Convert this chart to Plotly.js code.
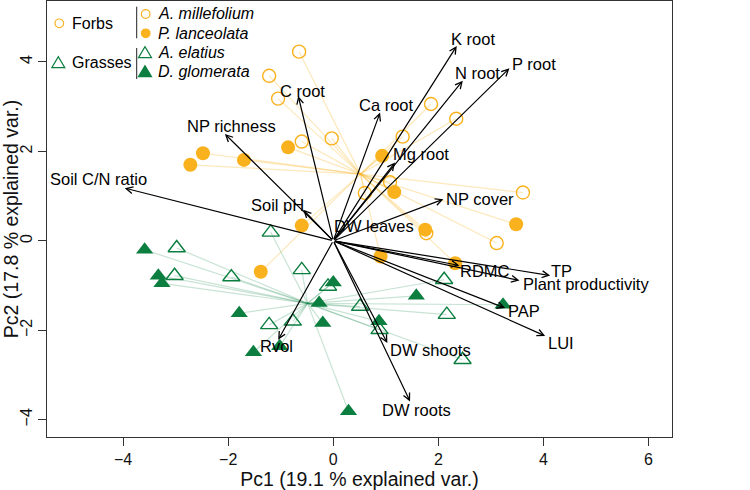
<!DOCTYPE html>
<html><head><meta charset="utf-8">
<script src="https://cdn.plot.ly/plotly-3.0.1.min.js"></script>
<style>html,body{margin:0;padding:0;background:#fff}#chart{width:750px;height:490px}</style>
</head><body><div id="chart"></div>
<script>
// ---- scores (PC1, PC2) per species ----
const millefoliumPC1 = [-0.65, -1.22, -1.05, -0.60, -0.03, 1.86, 2.34, 1.32, 1.08, 0.60, 3.61, 3.11, 1.77];
const millefoliumPC2 = [4.23, 3.69, 3.18, 2.22, 2.29, 3.06, 2.73, 2.33, 1.31, 1.07, 1.08, -0.05, 0.17];
const lanceolataPC1 = [-2.48, -2.72, -1.70, -0.86, 0.93, 1.16, 3.48, 1.75, 0.90, 2.32, -0.60, -1.38];
const lanceolataPC2 = [1.96, 1.70, 1.81, 2.09, 1.90, 1.09, 0.37, 0.25, -0.35, -0.50, 0.34, -0.69];
const elatiusPC1 = [-1.19, -2.98, -3.02, -1.94, -0.60, -0.10, -1.22, -0.77, 0.51, 2.11, 2.16, 0.88, 2.46];
const elatiusPC2 = [0.19, -0.16, -0.78, -0.81, -0.65, -1.02, -1.88, -1.80, -1.47, -0.87, -1.65, -1.99, -2.66];
const glomerataPC1 = [-3.59, -3.33, -3.26, -1.79, -1.52, -1.02, -0.27, -0.20, 0.00, 1.58, 0.87, 3.23, 0.29];
const glomerataPC2 = [-0.20, -0.78, -0.95, -1.62, -2.49, -2.36, -1.39, -1.84, -0.93, -1.23, -1.80, -1.43, -3.81];

// ---- loadings (arrow tips) ----
const varNames = ['K root','N root','P root','Ca root','Mg root','C root','NP richness','Soil C/N ratio','Soil pH','Rvol','NP cover','DW leaves','RDMC','TP','Plant productivity','PAP','LUI','DW shoots','DW roots'];
const varPC1 = [2.350, 2.465, 3.352, 0.890, 1.175, -0.667, -2.063, -3.968, -0.571, -1.048, 2.095, 0.02, 2.400, 4.128, 3.543, 3.270, 4.032, 1.029, 1.461];
const varPC2 = [4.358, 3.582, 3.859, 2.867, 1.750, 3.240, 2.391, 1.178, 0.693, -2.212, 0.932, 0.01, -0.552, -0.775, -0.887, -1.504, -2.128, -2.286, -3.591];

// ---- tick labels ----
const xTicks = [-4, -2, 0, 2, 4, 6];
const yTicks = [-4, -2, 0, 2, 4];

// ---- styling (label offsets in px) ----
const labelDX = [16, 15, 25, 6, 26, 4, 7, -26, -26, -2, 37, 40, 26, 11, 67, 19, 16, 43, 6];
const labelDY = [7, 8, 4, 8, 9, 5, 8, 9, 5, -6, 0, 14, -5, 4, -4, -3, -7, -7, -9];

const ORANGE = '#F9B21D';
const GREEN = '#0B7E40';
const FONT = 'Liberation Sans, Arial, Helvetica, sans-serif';

const M = {l: 47, r: 78, t: 1, b: 53};
const W = 750, H = 490;
const PW = W - M.l - M.r, PH = H - M.t - M.b;
const px2x = p => (p - M.l) / PW;
const px2y = p => (H - M.b - p) / PH;

function mean(a) { return a.reduce((s, v) => s + v, 0) / a.length; }
function spider(xs, ys, color) {
  const cx = mean(xs), cy = mean(ys);
  const X = [], Y = [];
  xs.forEach((x, i) => { X.push(cx, x, null); Y.push(cy, ys[i], null); });
  return {x: X, y: Y, mode: 'lines', line: {color: color, width: 1.2}, hoverinfo: 'skip', showlegend: false, type: 'scatter'};
}

const forbX = millefoliumPC1.concat(lanceolataPC1);
const forbY = millefoliumPC2.concat(lanceolataPC2);
const grassX = elatiusPC1.concat(glomerataPC1);
const grassY = elatiusPC2.concat(glomerataPC2);

const traces = [
  spider(forbX, forbY, 'rgba(249,178,29,0.30)'),
  spider(grassX, grassY, 'rgba(11,126,64,0.22)'),
  {x: millefoliumPC1, y: millefoliumPC2, mode: 'markers', type: 'scatter', name: 'A. millefolium',
   marker: {symbol: 'circle-open', size: 13, color: ORANGE, line: {width: 1.4, color: ORANGE}}},
  {x: lanceolataPC1, y: lanceolataPC2, mode: 'markers', type: 'scatter', name: 'P. lanceolata',
   marker: {symbol: 'circle', size: 14, color: ORANGE}},
  {x: elatiusPC1, y: elatiusPC2, mode: 'markers', type: 'scatter', name: 'A. elatius',
   marker: {symbol: 'triangle-up-open', size: 15, color: GREEN, line: {width: 1.4, color: GREEN}}},
  {x: glomerataPC1, y: glomerataPC2, mode: 'markers', type: 'scatter', name: 'D. glomerata',
   marker: {symbol: 'triangle-up', size: 15, color: GREEN}}
];

const annotations = [];
varNames.forEach((nm, i) => {
  const len = Math.hypot(varPC1[i], varPC2[i]);
  if (len > 0.1) {
    annotations.push({x: varPC1[i], y: varPC2[i], ax: 0, ay: 0, axref: 'x', ayref: 'y', xref: 'x', yref: 'y',
      text: '', showarrow: true, arrowhead: 5, arrowsize: 1.1, arrowwidth: 1.2, arrowcolor: '#000', standoff: 0});
  }
  annotations.push({x: varPC1[i], y: varPC2[i], xref: 'x', yref: 'y', text: nm, showarrow: false,
    xanchor: 'center', yanchor: 'middle', xshift: labelDX[i], yshift: labelDY[i],
    font: {family: FONT, size: 16.5, color: '#000'}});
});

// legend texts
const legTexts = [
  {t: 'Forbs', x: 70, y: 23.3},
  {t: 'Grasses', x: 70, y: 62.7},
  {t: '<i>A. millefolium</i>', x: 156, y: 14},
  {t: '<i>P. lanceolata</i>', x: 156, y: 33.3},
  {t: '<i>A. elatius</i>', x: 156, y: 52.7},
  {t: '<i>D. glomerata</i>', x: 156, y: 71.7}
];
legTexts.forEach(o => annotations.push({xref: 'paper', yref: 'paper', x: px2x(o.x), y: px2y(o.y), text: o.t,
  showarrow: false, xanchor: 'left', yanchor: 'middle', font: {family: FONT, size: 16, color: '#000'}}));

function circ(px, py, fill, color) {
  return {type: 'circle', xref: 'paper', yref: 'paper', xsizemode: 'pixel', ysizemode: 'pixel',
    xanchor: px2x(px), yanchor: px2y(py), x0: -4.3, x1: 4.3, y0: -4.3, y1: 4.3,
    line: {color: color, width: 1.2}, fillcolor: fill ? color : 'rgba(0,0,0,0)'};
}
function tri(px, py, fill, color) {
  return {type: 'path', xref: 'paper', yref: 'paper', xsizemode: 'pixel', ysizemode: 'pixel',
    xanchor: px2x(px), yanchor: px2y(py), path: 'M-6.5,-5 L6.5,-5 L0,6 Z',
    line: {color: color, width: 1.2}, fillcolor: fill ? color : 'rgba(0,0,0,0)'};
}
const shapes = [
  circ(59.3, 23.3, false, ORANGE),
  tri(58.3, 62.7, false, GREEN),
  circ(145.7, 14, false, ORANGE),
  circ(145.7, 33.3, true, ORANGE),
  tri(145, 52.7, false, GREEN),
  tri(145, 71.7, true, GREEN),
  {type: 'line', xref: 'paper', yref: 'paper', x0: px2x(136.7), x1: px2x(136.7), y0: px2y(6.7), y1: px2y(38.3), line: {color: '#222', width: 1}},
  {type: 'line', xref: 'paper', yref: 'paper', x0: px2x(136.7), x1: px2x(136.7), y0: px2y(48), y1: px2y(79), line: {color: '#222', width: 1}}
];

const layout = {
  width: W, height: H, margin: M, showlegend: false,
  paper_bgcolor: '#fff', plot_bgcolor: '#fff',
  font: {family: FONT, color: '#000'},
  xaxis: {range: [-5.448, 6.446], tickvals: xTicks, ticktext: xTicks.map(v => v < 0 ? '\u2212' + Math.abs(v) : String(v)),
    ticks: 'outside', ticklen: 8, tickwidth: 1, tickcolor: '#333', showgrid: false, zeroline: false,
    showline: true, mirror: true, linecolor: '#333', linewidth: 1, tickfont: {size: 16, family: FONT, color: '#111'},
    title: {text: 'Pc1 (19.1 % explained var.)', font: {size: 19.5, family: FONT, color: '#111'}, standoff: 0}},
  yaxis: {range: [-4.387, 5.363], tickvals: yTicks, ticktext: yTicks.map(v => v < 0 ? '\u2212' + Math.abs(v) : String(v)),
    tickangle: -90, ticks: 'outside', ticklen: 8, tickwidth: 1, tickcolor: '#333', showgrid: false, zeroline: false,
    showline: true, mirror: true, linecolor: '#333', linewidth: 1, tickfont: {size: 16, family: FONT, color: '#111'},
    title: {text: 'Pc2 (17.8 % explained var.)', font: {size: 19.5, family: FONT, color: '#111'}, standoff: 4}},
  annotations: annotations,
  shapes: shapes
};

Plotly.newPlot('chart', traces, layout, {staticPlot: true, displayModeBar: false});
</script>
</body></html>
